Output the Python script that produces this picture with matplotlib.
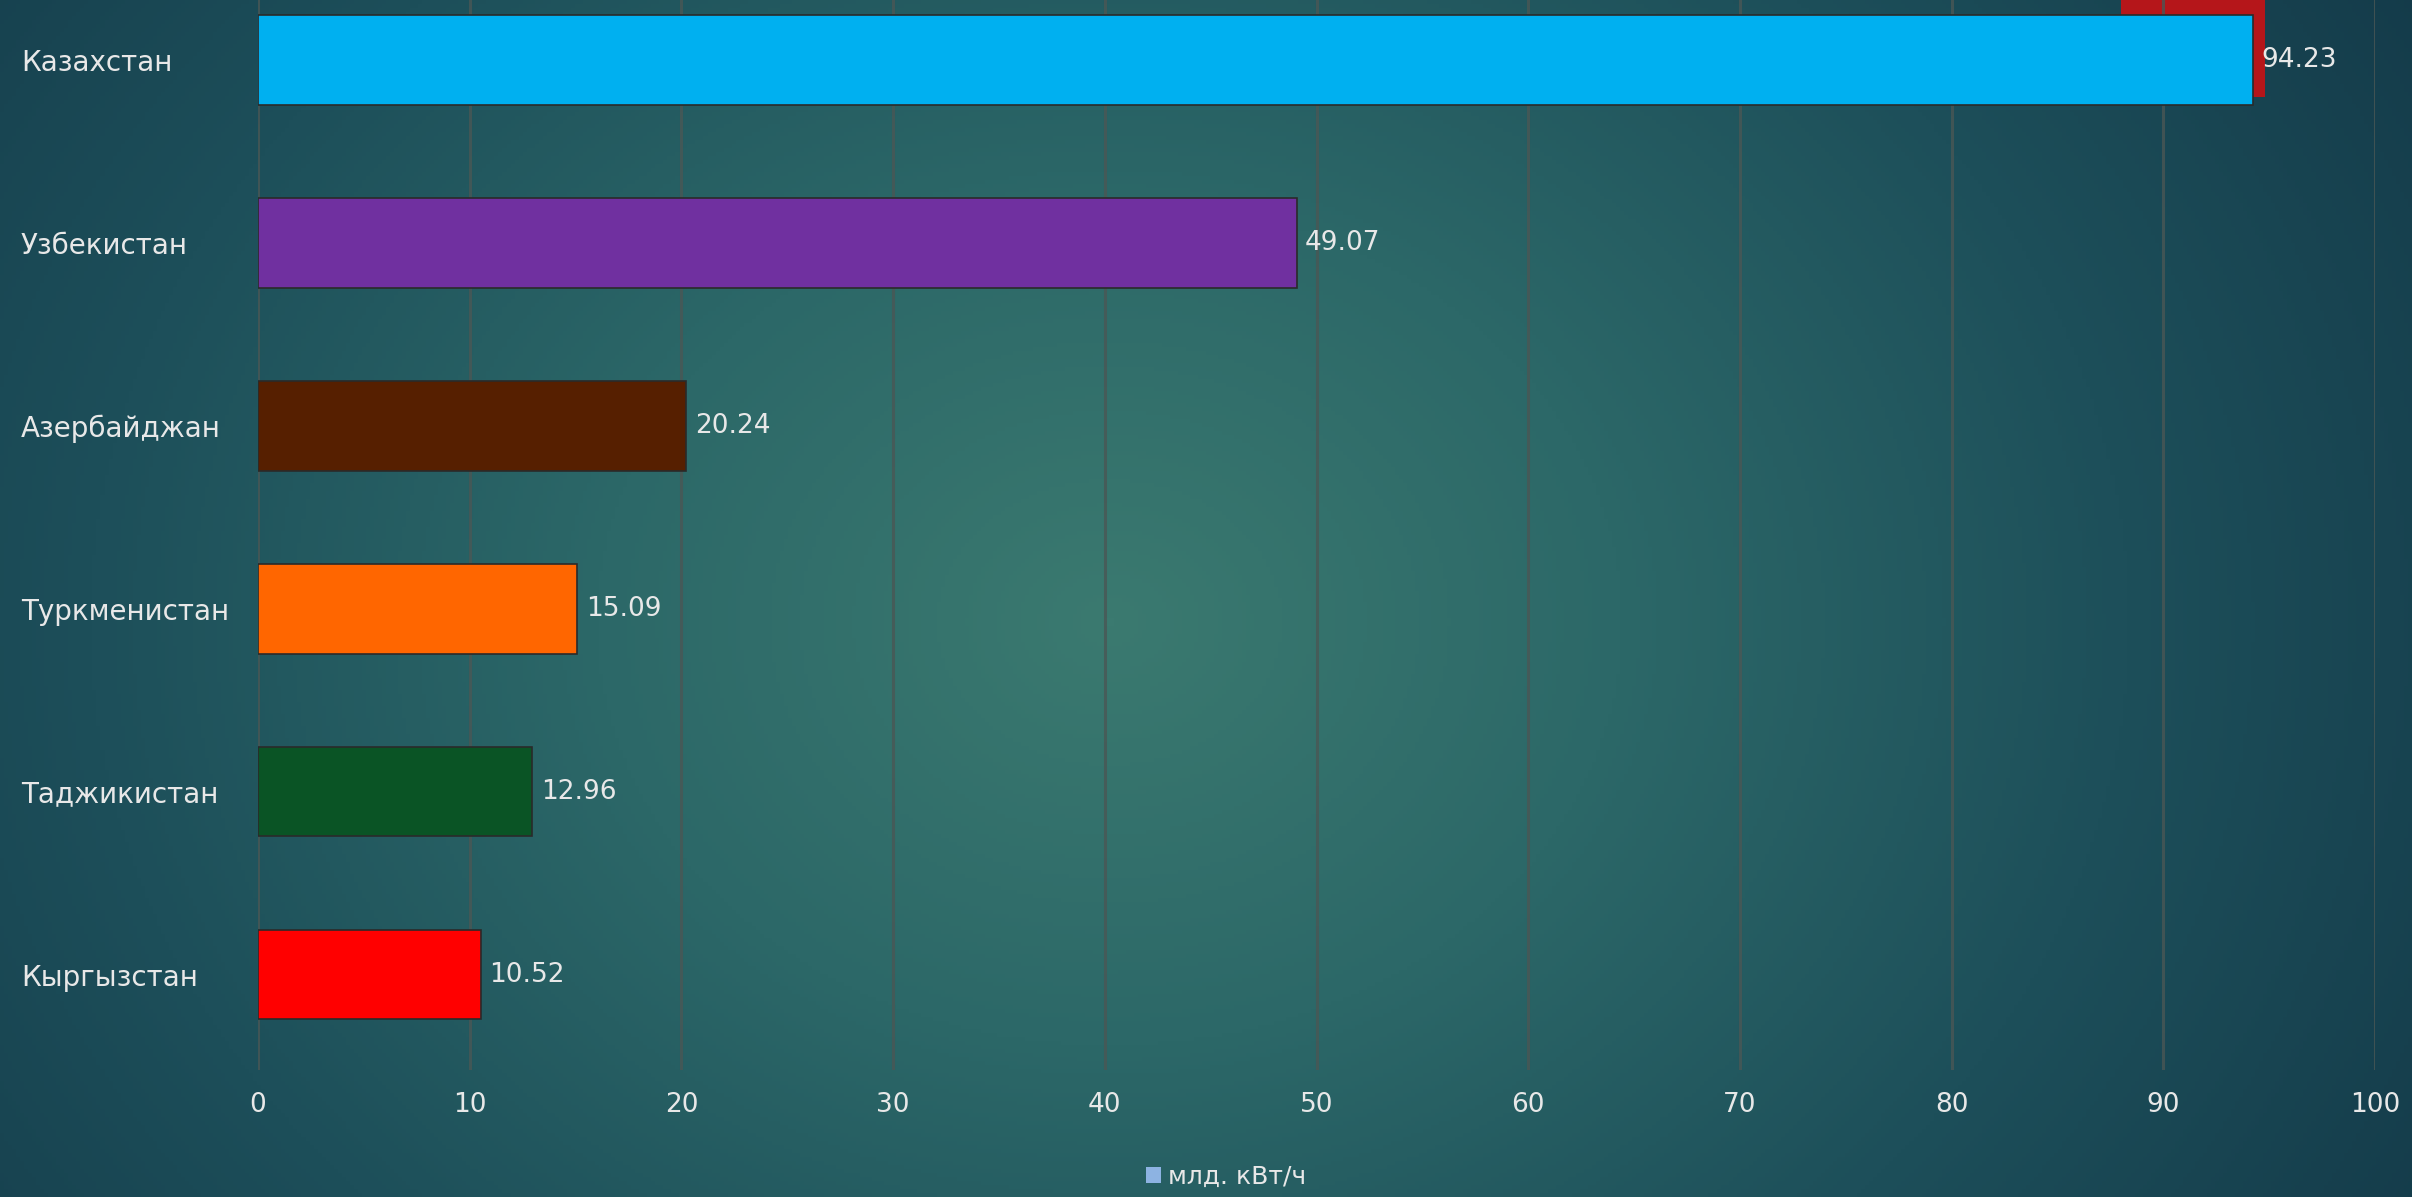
import numpy as np
import matplotlib
matplotlib.use("Agg")
import matplotlib.pyplot as plt
from matplotlib.patches import Patch, Rectangle
from matplotlib.colors import LinearSegmentedColormap

# ---- data ----
countries = ["Казахстан", "Узбекистан", "Азербайджан", "Туркменистан", "Таджикистан", "Кыргызстан"]
values = [94.23, 49.07, 20.24, 15.09, 12.96, 10.52]
bar_colors = ["#00B0F0", "#7030A0", "#561F00", "#FF6600", "#0A5425", "#FF0000"]
x_ticks = [0, 10, 20, 30, 40, 50, 60, 70, 80, 90, 100]
legend_label = "млд. кВт/ч"

W, H = 2412, 1197
dpi = 100
fig = plt.figure(figsize=(W / dpi, H / dpi), dpi=dpi)

# background radial gradient
bg = fig.add_axes([0, 0, 1, 1], zorder=-10)
yy, xx = np.mgrid[0:1:300j, 0:1:600j]
cx, cy = 0.46, 0.52
d = np.sqrt(((xx - cx) * 1.5) ** 2 + ((yy - cy) * 0.9) ** 2)
d = np.clip(d / 0.95, 0, 1)
cmap = LinearSegmentedColormap.from_list("bg", ["#3b7a70", "#2c6868", "#1d4f5a", "#143b4a"])
bg.imshow(d, cmap=cmap, aspect="auto", extent=[0, 1, 0, 1], origin="upper", vmin=0, vmax=1)
bg.set_axis_off()

# decorative red block at top
fig.add_artist(Rectangle((2121 / W, 1 - 97 / H), (2265 - 2121) / W, 97 / H + 0.01,
                         transform=fig.transFigure, facecolor="#B5161A", edgecolor="none", zorder=-5))

left = 258 / W
right = 2375 / W
bottom = 1 - 1070 / H
ax = fig.add_axes([left, bottom, right - left, 1 - bottom])
ax.patch.set_alpha(0)

ypos = np.arange(len(countries))
bars = ax.barh(ypos, values, height=0.49, color=bar_colors, edgecolor="#2a2a2a",
               linewidth=1.2, zorder=3)
ax.set_ylim(5.522, -0.328)
ax.set_xlim(0, 100)
ax.set_xticks(x_ticks)
ax.set_xticklabels([str(t) for t in x_ticks])
ax.set_yticks(ypos)
ax.set_yticklabels(countries)

ax.xaxis.grid(True, color="#4a5755", linewidth=2.2, alpha=0.8, zorder=1)
ax.set_axisbelow(True)
for s in ax.spines.values():
    s.set_visible(False)

txt_color = "#E8E8E8"
ax.tick_params(axis="both", length=0, colors=txt_color)
ax.tick_params(axis="x", labelsize=19, pad=16)
ax.tick_params(axis="y", labelsize=20, pad=(258 - 21) * 72 / dpi)
for lbl in ax.get_yticklabels():
    lbl.set_ha("left")

ax.bar_label(bars, labels=[f"{v:.2f}" for v in values], padding=6,
             color=txt_color, fontsize=19)

fig.legend(handles=[Patch(facecolor="#8DB3E2", edgecolor="none", label=legend_label)],
           loc="center", bbox_to_anchor=(1226 / W, 1 - 1177 / H), frameon=False,
           fontsize=18, labelcolor=txt_color, handlelength=0.6, handleheight=0.6,
           handletextpad=0.3)

fig.savefig("out.png", dpi=dpi)
